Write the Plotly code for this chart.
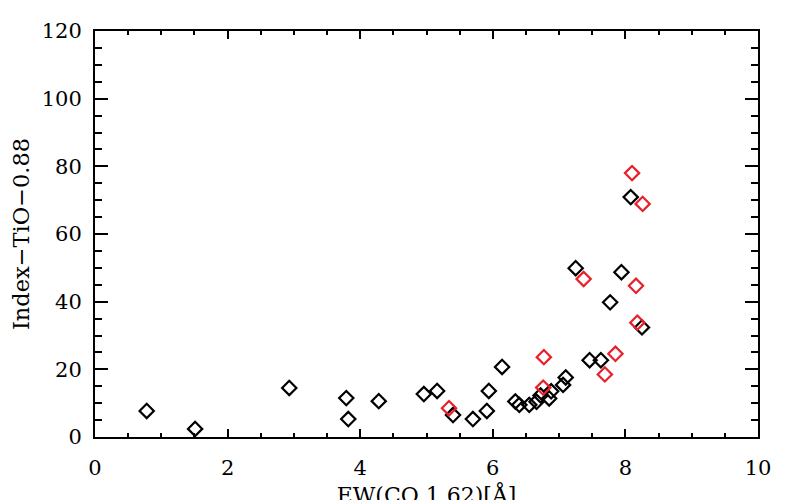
import plotly.graph_objects as go

black_x = [0.78, 1.51, 2.93, 3.79, 3.82, 4.28, 4.96, 5.16, 5.40, 5.70, 5.91, 5.94, 6.14,
           6.34, 6.40, 6.55, 6.66, 6.72, 6.85, 6.88, 7.06, 7.10, 7.25, 7.46, 7.63, 7.77,
           7.94, 8.08, 8.25]
black_y = [7.7, 2.4, 14.5, 11.5, 5.3, 10.6, 12.7, 13.6, 6.5, 5.3, 7.7, 13.6, 20.7,
           10.5, 9.5, 9.5, 10.4, 12.3, 11.4, 13.5, 15.4, 17.6, 49.9, 22.7, 22.7, 39.8,
           48.7, 70.9, 32.4]
red_x = [5.34, 6.76, 6.77, 7.37, 7.69, 7.85, 8.10, 8.16, 8.18, 8.26]
red_y = [8.5, 14.6, 23.6, 46.7, 18.5, 24.6, 78.0, 44.7, 33.8, 68.9]

FONT = "DejaVu Serif"

fig = go.Figure()
fig.add_trace(go.Scatter(x=black_x, y=black_y, mode="markers",
                         marker=dict(symbol="diamond-open", size=11, color="black",
                                     line=dict(width=2.2, color="black")),
                         showlegend=False))
fig.add_trace(go.Scatter(x=red_x, y=red_y, mode="markers",
                         marker=dict(symbol="diamond-open", size=11, color="#e8202a",
                                     line=dict(width=2.2, color="#e8202a")),
                         showlegend=False))

# the page body has an 8px margin, so margins are offset accordingly
fig.update_layout(
    width=786, height=500,
    margin=dict(l=87, r=36, t=23, b=71),
    paper_bgcolor="white", plot_bgcolor="white",
    font=dict(family=FONT, size=21, color="black"),
    xaxis=dict(range=[0, 10], tickvals=[0, 2, 4, 6, 8, 10], ticks="inside", ticklen=8,
               tickwidth=2, tickcolor="black", showline=True, linewidth=2, linecolor="black",
               mirror="allticks", showgrid=False, zeroline=False, automargin=False,
               minor=dict(ticks="inside", dtick=0.5, ticklen=4, tickwidth=2, tickcolor="black",
                          showgrid=False),
               title=dict(text="EW(CO 1.62)[Å]", standoff=10, font=dict(size=22)),
               ticklabelstandoff=11),
    yaxis=dict(range=[0, 120], tickvals=[0, 20, 40, 60, 80, 100, 120], ticks="inside",
               ticklen=13, tickwidth=2, tickcolor="black", showline=True, linewidth=2,
               linecolor="black", mirror="allticks", showgrid=False, zeroline=False,
               automargin=False,
               minor=dict(ticks="inside", dtick=5, ticklen=7, tickwidth=2, tickcolor="black",
                          showgrid=False),
               title=dict(text="Index−TiO−0.88", standoff=26, font=dict(size=22.5)),
               ticklabelstandoff=7),
)

fig.write_html("out.html")
